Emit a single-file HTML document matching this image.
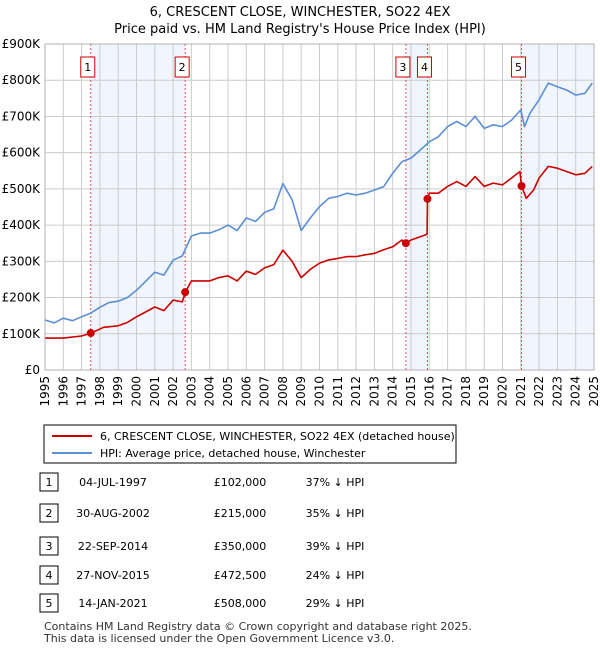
<!DOCTYPE html>
<html><head><meta charset="utf-8"><style>
body{margin:0;background:#fff;font-family:"Liberation Sans",sans-serif;}
svg text{font-family:"DejaVu Sans","Liberation Sans",sans-serif;}
</style></head><body>
<svg id="c" width="600" height="650" xmlns="http://www.w3.org/2000/svg">
<text x="300" y="16" text-anchor="middle" font-size="13">6, CRESCENT CLOSE, WINCHESTER, SO22 4EX</text>
<text x="300" y="33" text-anchor="middle" font-size="13">Price paid vs. HM Land Registry's House Price Index (HPI)</text>
<g id="plot"></g>
<rect x="44" y="425" width="412" height="38" fill="#fff" stroke="#000" stroke-width="1"/>
<line x1="52" y1="436" x2="92" y2="436" stroke="#cc0000" stroke-width="2"/>
<text x="100" y="440" font-size="11">6, CRESCENT CLOSE, WINCHESTER, SO22 4EX (detached house)</text>
<line x1="52" y1="453" x2="92" y2="453" stroke="#5b8fd4" stroke-width="2"/>
<text x="100" y="457" font-size="11">HPI: Average price, detached house, Winchester</text>
<g id="table"></g>
<text x="44" y="630" font-size="11" fill="#333">Contains HM Land Registry data © Crown copyright and database right 2025.</text>
<text x="44" y="642" font-size="11" fill="#333">This data is licensed under the Open Government Licence v3.0.</text>
</svg>
<script>
const years=[1995,1996,1997,1998,1999,2000,2001,2002,2003,2004,2005,2006,2007,2008,2009,2010,2011,2012,2013,2014,2015,2016,2017,2018,2019,2020,2021,2022,2023,2024,2025];
const yTicks=[0,100000,200000,300000,400000,500000,600000,700000,800000,900000];
const yTickLabels=["£0","£100K","£200K","£300K","£400K","£500K","£600K","£700K","£800K","£900K"];
const hpiT=[1995,1995.5,1996,1996.5,1997,1997.5,1998,1998.5,1999,1999.5,2000,2000.5,2001,2001.5,2002,2002.5,2003,2003.5,2004,2004.5,2005,2005.5,2006,2006.5,2007,2007.5,2008,2008.5,2009,2009.5,2010,2010.5,2011,2011.5,2012,2012.5,2013,2013.5,2014,2014.5,2015,2015.5,2016,2016.5,2017,2017.5,2018,2018.5,2019,2019.5,2020,2020.5,2021,2021.2,2021.5,2022,2022.5,2023,2023.5,2024,2024.5,2024.9];
const hpiV=[138,130,143,136,147,157,173,186,190,200,220,245,270,262,303,315,370,378,378,387,400,385,420,410,435,445,515,470,385,420,451,474,479,488,483,488,497,506,543,575,585,607,630,644,672,686,672,700,667,677,672,690,718,672,709,746,792,782,773,759,764,792];
const ppT=[1995,1996,1997,1997.5,1998.2,1999,1999.5,2000,2000.5,2001,2001.5,2002,2002.5,2002.67,2003,2003.5,2004,2004.5,2005,2005.5,2006,2006.5,2007,2007.5,2008,2008.5,2009,2009.5,2010,2010.5,2011,2011.5,2012,2012.5,2013,2013.5,2014,2014.5,2014.72,2015,2015.5,2015.88,2015.9,2016,2016.5,2017,2017.5,2018,2018.5,2019,2019.5,2020,2020.5,2020.95,2021.04,2021.3,2021.7,2022,2022.5,2023,2023.5,2024,2024.5,2024.9];
const ppV=[88,88,94,102,118,122,131,147,160,174,164,193,188,215,246,246,246,255,260,246,273,264,282,291,331,300,255,278,295,304,308,313,313,318,322,332,340,359,350,359,368,375,472.5,488,488,507,520,507,534,507,516,511,530,548,508,474,497,530,562,557,548,539,543,562];
const saleLabels=["1","2","3","4","5"];
const saleT=[1997.5,2002.66,2014.72,2015.9,2021.04];
const saleV=[102,215,350,472.5,508];
const saleDates=["04-JUL-1997","30-AUG-2002","22-SEP-2014","27-NOV-2015","14-JAN-2021"];
const salePrices=["£102,000","£215,000","£350,000","£472,500","£508,000"];
const saleDiff=["37% ↓ HPI","35% ↓ HPI","39% ↓ HPI","24% ↓ HPI","29% ↓ HPI"];
const NS="http://www.w3.org/2000/svg";
const X0=45,X1=594,Y0=370,Y1=44;
const xs=t=>X0+(t-1995)/30*(X1-X0);
const ys=v=>Y0-v/900*(Y0-Y1);
const plot=document.getElementById('plot');
function mk(tag,a,parent){const e=document.createElementNS(NS,tag);for(const k in a)e.setAttribute(k,a[k]);(parent||plot).appendChild(e);return e;}
[[0,1],[2,3],[4,null]].forEach((p,i)=>{const a=xs(saleT[p[0]]),b=p[1]===null?X1:xs(saleT[p[1]]);
const r=mk('rect',{x:a,y:Y1,width:b-a,height:Y0-Y1,fill:'#eef3fc',opacity:0.8});

});
years.forEach(y=>{const l=mk('line',{x1:xs(y),x2:xs(y),y1:Y1,y2:Y0,stroke:'#cccccc','stroke-width':1});


const t=mk('text',{x:0,y:0,'font-size':12,'text-anchor':'end',transform:`translate(${xs(y)+4},${Y0+6}) rotate(-90)`});t.textContent=y;

});
yTicks.forEach((v,i)=>{const l=mk('line',{x1:X0,x2:X1,y1:ys(v/1000),y2:ys(v/1000),stroke:'#cccccc','stroke-width':1});


const t=mk('text',{x:X0-5,y:ys(v/1000)+4,'font-size':12,'text-anchor':'end'});t.textContent=yTickLabels[i];

});
saleT.forEach((t,i)=>{const l=mk('line',{x1:xs(t),x2:xs(t),y1:Y1,y2:Y0,stroke:'#e05050','stroke-width':1,'stroke-dasharray':'2,2'});


const r=mk('rect',{x:xs(t)-10,y:57,width:14,height:20,fill:'#fff',stroke:'#cc0000'});


const tx=mk('text',{x:xs(t)-3,y:71,'font-size':11,'text-anchor':'middle'});tx.textContent=saleLabels[i];

});
function path(T,V,col,name){const d=T.map((t,i)=>(i?'L':'M')+xs(t).toFixed(1)+','+ys(V[i]).toFixed(1)).join(' ');
const p=mk('path',{d,fill:'none',stroke:col,'stroke-width':1.6,'stroke-linejoin':'round'});

}
path(hpiT,hpiV,'#5b8fd4','hpi-line');
path(ppT,ppV,'#cc0000','price-paid-line');
saleT.forEach((t,i)=>{const c=mk('circle',{cx:xs(t),cy:ys(saleV[i]),r:4,fill:'#cc0000'});

});
const ax=mk('rect',{x:X0,y:Y1,width:X1-X0,height:Y0-Y1,fill:'none',stroke:'#999','stroke-width':0.5});


const tb=document.getElementById('table');
const rowY=[482,513,546,575,603];
saleLabels.forEach((s,i)=>{const y=rowY[i];
const r=mk('rect',{x:40,y:y-9,width:18,height:18,fill:'#fff',stroke:'#000'},tb);


const cells=[[49,s,'middle'],[113,saleDates[i],'middle'],[240,salePrices[i],'middle'],[335,saleDiff[i],'middle']];
cells.forEach((c,j)=>{const t=mk('text',{x:c[0],y:y+4,'font-size':11,'text-anchor':c[2]},tb);t.textContent=c[1];

});});
</script>
</body></html>
